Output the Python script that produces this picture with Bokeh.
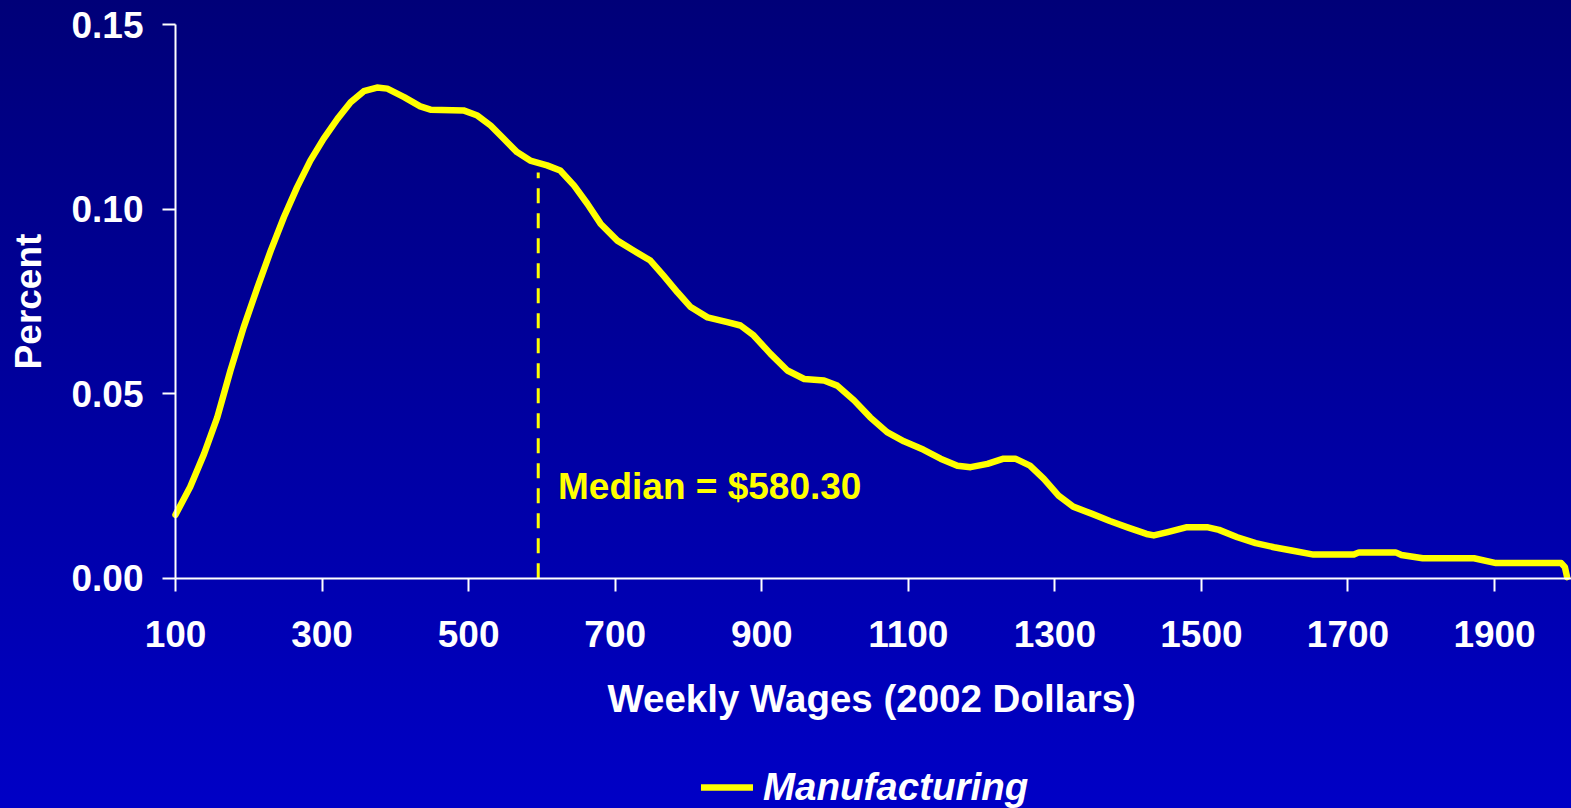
import math
from bokeh.plotting import figure
from bokeh.models import Range1d, FixedTicker, NumeralTickFormatter, Label, Legend, LegendItem
from bokeh.embed import file_html
from bokeh.resources import INLINE

# ---- data ----
wage = [100, 120, 139, 157, 175, 193, 212, 230, 248, 266, 284, 302, 321, 339, 357, 375, 389, 412,
        434, 448, 493, 512, 530, 548, 566, 584, 607, 625, 644, 662, 680, 703, 725, 748, 766, 785,
        803, 826, 853, 871, 889, 912, 935, 958, 985, 1003, 1026, 1048, 1071, 1094, 1121, 1144,
        1167, 1185, 1208, 1230, 1246, 1266, 1285, 1305, 1325, 1350, 1375, 1400, 1425, 1435, 1454,
        1479, 1509, 1524, 1549, 1574, 1599, 1623, 1653, 1708, 1715, 1765, 1773, 1802, 1872, 1902,
        1991, 1996, 1999]
pct = [0.0172, 0.0247, 0.0337, 0.0436, 0.0563, 0.0680, 0.0789, 0.0888, 0.0979, 0.1060, 0.1132,
       0.1191, 0.1245, 0.1290, 0.1320, 0.1330, 0.1327, 0.1304, 0.1279, 0.1270, 0.1268, 0.1254,
       0.1227, 0.1191, 0.1155, 0.1132, 0.1119, 0.1105, 0.1064, 0.1015, 0.0961, 0.0915, 0.0888,
       0.0861, 0.0820, 0.0775, 0.0735, 0.0707, 0.0694, 0.0685, 0.0658, 0.0608, 0.0563, 0.0540,
       0.0536, 0.0522, 0.0482, 0.0436, 0.0396, 0.0371, 0.0348, 0.0324, 0.0305, 0.0301, 0.0310,
       0.0324, 0.0324, 0.0305, 0.0269, 0.0224, 0.0194, 0.0175, 0.0155, 0.0137, 0.0120, 0.0116,
       0.0125, 0.0138, 0.0138, 0.0131, 0.0111, 0.0095, 0.0084, 0.0075, 0.0064, 0.0064, 0.0070,
       0.0070, 0.0063, 0.0054, 0.0054, 0.0041, 0.0041, 0.0030, 0.0003]
median_x = [595, 595]
median_y = [0.0, 0.110]
median_text = "Median = $580.30"
x_ticks = [100, 300, 500, 700, 900, 1100, 1300, 1500, 1700, 1900]
y_ticks = [0.0, 0.05, 0.10, 0.15]
x_title = "Weekly Wages (2002 Dollars)"
y_title = "Percent"
series_name = "Manufacturing"

FONT = "Liberation Sans"
FS = "37px"
YELLOW = "#FFFF00"

# The frame fills the whole page; axes are pinned at x=100 and y=0 so that
# tick labels, titles and the legend all sit inside the frame.
p = figure(width=1571, height=808, output_backend="svg", toolbar_location=None,
           x_range=Range1d(-138.8, 2005), y_range=Range1d(-0.06242, 0.15659),
           min_border_left=0, min_border_right=0, min_border_top=0, min_border_bottom=0)

p.styles = {"background": "linear-gradient(to bottom, #000078, #0000C6)"}
p.background_fill_alpha = 0
p.border_fill_alpha = 0
p.outline_line_color = None
p.xgrid.visible = False
p.ygrid.visible = False

line = p.line(wage, pct, line_color=YELLOW, line_width=6.5, line_join="round", line_cap="round")
p.line(median_x, median_y, line_color=YELLOW, line_width=3, line_dash="15 10")

p.add_layout(Label(x=622, y=0.0248, text=median_text, text_color=YELLOW, text_font=FONT,
                   text_font_size=FS, text_font_style="bold", text_baseline="middle"))

for ax in (p.xaxis[0], p.yaxis[0]):
    ax.axis_line_color = "white"
    ax.axis_line_width = 2
    ax.major_tick_line_color = "white"
    ax.major_tick_line_width = 2
    ax.major_tick_out = 13
    ax.major_tick_in = 0
    ax.minor_tick_line_color = None
    ax.major_label_text_color = "white"
    ax.major_label_text_font = FONT
    ax.major_label_text_font_size = FS
    ax.major_label_text_font_style = "bold"

p.xaxis.ticker = FixedTicker(ticks=x_ticks)
p.yaxis.ticker = FixedTicker(ticks=y_ticks)
p.yaxis.formatter = NumeralTickFormatter(format="0.00")
p.xaxis.bounds = (100, 2005)
p.yaxis.bounds = (0, 0.15)
p.xaxis.fixed_location = 0
p.yaxis.fixed_location = 100
p.xaxis.major_label_standoff = 30
p.yaxis.major_label_standoff = 19

# axis titles (centred on the axis lines, as in the reference)
p.add_layout(Label(x=1050, y=-0.0326, text=x_title, text_color="white", text_font=FONT,
                   text_font_size="38.5px", text_font_style="bold",
                   text_align="center", text_baseline="middle"))
p.add_layout(Label(x=-100.6, y=0.075, text=y_title, angle=math.pi / 2, text_color="white",
                   text_font=FONT, text_font_size=FS, text_font_style="bold",
                   text_align="center", text_baseline="middle"))

legend = Legend(items=[LegendItem(label=series_name, renderers=[line])],
                location=(701, -3), orientation="horizontal",
                glyph_width=52, glyph_height=48, label_height=48, label_standoff=10,
                padding=0, margin=0, border_line_alpha=0, background_fill_alpha=0,
                label_text_color="white", label_text_font=FONT, label_text_font_size="38.5px",
                label_text_font_style="bold italic")
p.add_layout(legend, "center")

open("out.html", "w").write(file_html(p, INLINE))
